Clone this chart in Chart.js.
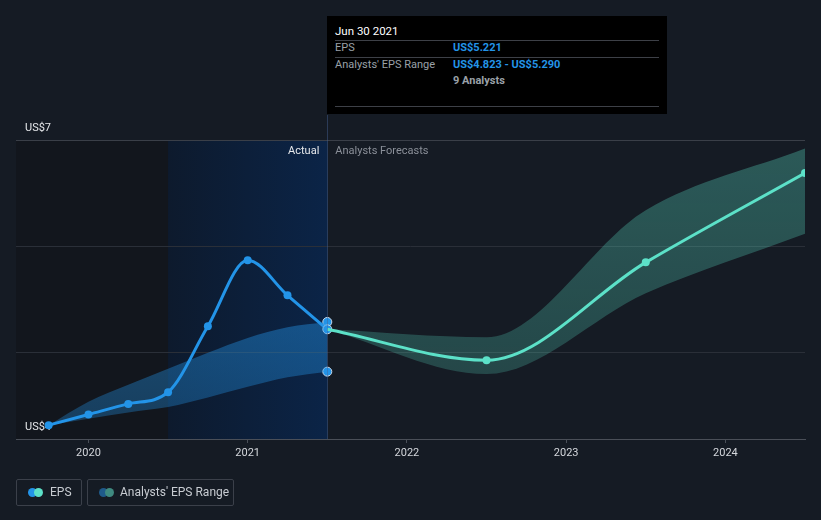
<!DOCTYPE html>
<html>
<head>
<meta charset="utf-8">
<script src="https://cdn.jsdelivr.net/npm/chart.js@4"></script>
<style>
  body { margin: 0; background: #151b24; font-family: Roboto, "Noto Sans", sans-serif; }
  #wrap { position: relative; width: 821px; height: 520px; overflow: hidden; }
  #tip { position: absolute; left: 327px; top: 16px; width: 340px; height: 98px; background: #000; color: #fff; font-size: 11px; }
  #tip .hd { position: absolute; left: 8px; top: 8px; font-size: 11.5px; }
  #tip .sep { position: absolute; left: 8px; right: 8px; height: 1px; background: #3d4047; }
  #tip .lb { position: absolute; left: 8px; color: #9aa0a8; }
  #tip .vl { position: absolute; left: 126px; color: #2394e8; font-weight: bold; }
  #tip .gr { color: #9aa0a8; }
  .leg { position: absolute; top: 479px; height: 27px; border: 1px solid #3b404a; border-radius: 2px; color: #c8ccd2; font-size: 12px; line-height: 25px; box-sizing: border-box; }
  .dots { position: absolute; left: 11px; top: 8px; width: 16px; height: 9px; }
  .dots span { position: absolute; top: 0; width: 9px; height: 9px; border-radius: 50%; }
</style>
</head>
<body>
<div id="wrap">
  <canvas id="eps" width="821" height="520"></canvas>
  <div id="tip">
    <div class="hd">Jun 30 2021</div>
    <div class="sep" style="top:24px"></div>
    <div class="lb" style="top:25px">EPS</div>
    <div class="vl" style="top:25px">US$5.221</div>
    <div class="sep" style="top:41px"></div>
    <div class="lb" style="top:42px">Analysts' EPS Range</div>
    <div class="vl" style="top:42px">US$4.823 - US$5.290</div>
    <div class="vl gr" style="top:58px">9 Analysts</div>
    <div class="sep" style="top:90px"></div>
  </div>
  <div class="leg" style="left:16px;width:66px;">
    <div class="dots"><span style="left:0;background:#2394e8"></span><span style="left:6px;background:#5ce1c8"></span></div>
    <span style="position:absolute;left:33px">EPS</span>
  </div>
  <div class="leg" style="left:87px;width:147px;">
    <div class="dots"><span style="left:0;background:#1f5a8a"></span><span style="left:6px;background:#3f8a80"></span></div>
    <span style="position:absolute;left:32px">Analysts' EPS Range</span>
  </div>
</div>
<script>
// quarterly actuals (decimal years)
const quarters = [2019.75, 2020, 2020.25, 2020.5, 2020.75, 2021, 2021.25, 2021.5];
const epsActual = [4.32, 4.42, 4.52, 4.63, 5.25, 5.87, 5.54, 5.221];
const rangeLow = [4.32, 4.38, 4.44, 4.49, 4.58, 4.68, 4.77, 4.823];
const rangeHigh = [4.32, 4.54, 4.70, 4.85, 5.00, 5.14, 5.24, 5.290];

// analyst forecasts
const forecastYears = [2021.5, 2022.5, 2023.5, 2024.5];
const epsForecast = [5.221, 4.93, 5.85, 6.69];
const forecastLow = [5.221, 4.80, 5.56, 6.12];
const forecastHigh = [5.221, 5.146, 6.34, 6.92];

const yearTicks = [2020, 2021, 2022, 2023, 2024];
const yTicks = [4.19, 5, 6, 7];
const yLabels = { 4.19: 'US$4', 7: 'US$7' };

const actualStart = 2020.5;
const actualEnd = 2021.5;

function pts(xs, ys) {
  return xs.map((x, i) => ({ x: x, y: ys[i] }));
}

const bgPlugin = {
  id: 'bg',
  beforeDraw(chart) {
    const ctx = chart.ctx;
    const a = chart.chartArea;
    const x = chart.scales.x;
    const x1 = x.getPixelForValue(actualStart);
    const x2 = x.getPixelForValue(actualEnd);
    ctx.save();
    ctx.fillStyle = '#12161d';
    ctx.fillRect(a.left, a.top, x1 - a.left, a.bottom - a.top);
    const g = ctx.createLinearGradient(x1, 0, x2, 0);
    g.addColorStop(0, '#0d1a2d');
    g.addColorStop(1, '#0b2447');
    ctx.fillStyle = g;
    ctx.fillRect(x1, a.top, x2 - x1, a.bottom - a.top);
    ctx.restore();
  },
  afterDraw(chart) {
    const ctx = chart.ctx;
    const a = chart.chartArea;
    const x2 = chart.scales.x.getPixelForValue(actualEnd);
    ctx.save();
    ctx.strokeStyle = 'rgba(70,100,150,0.45)';
    ctx.lineWidth = 1;
    ctx.beginPath();
    ctx.moveTo(Math.round(x2) + 0.5, 115);
    ctx.lineTo(Math.round(x2) + 0.5, a.bottom);
    ctx.stroke();
    ctx.font = '11px Roboto, sans-serif';
    ctx.textBaseline = 'middle';
    ctx.textAlign = 'right';
    ctx.fillStyle = '#e6e8eb';
    ctx.fillText('Actual', x2 - 8, a.top + 11);
    ctx.textAlign = 'left';
    ctx.fillStyle = '#8b9099';
    ctx.fillText('Analysts Forecasts', x2 + 8, a.top + 11);
    ctx.restore();
  }
};

const ctx = document.getElementById('eps').getContext('2d');

function vGrad(context, top, bottom) {
  const a = context.chart.chartArea;
  if (!a) return top;
  const g = context.chart.ctx.createLinearGradient(0, a.top, 0, a.bottom);
  g.addColorStop(0, top);
  g.addColorStop(1, bottom);
  return g;
}

new Chart(ctx, {
  type: 'line',
  data: {
    datasets: [
      {
        label: 'fcLow',
        data: pts(forecastYears, forecastLow),
        borderWidth: 0,
        pointRadius: 0,
        fill: false,
        cubicInterpolationMode: 'monotone'
      },
      {
        label: 'fcHigh',
        data: pts(forecastYears, forecastHigh),
        borderWidth: 0,
        pointRadius: 0,
        fill: '-1',
        backgroundColor: (c) => vGrad(c, 'rgba(92,225,200,0.32)', 'rgba(92,225,200,0.2)'),
        cubicInterpolationMode: 'monotone'
      },
      {
        label: 'acLow',
        data: pts(quarters, rangeLow),
        borderWidth: 0,
        pointRadius: 0,
        fill: false,
        cubicInterpolationMode: 'monotone'
      },
      {
        label: 'acHigh',
        data: pts(quarters, rangeHigh),
        borderWidth: 0,
        pointRadius: 0,
        fill: '-1',
        backgroundColor: (c) => vGrad(c, 'rgba(35,148,232,0.6)', 'rgba(35,148,232,0.3)'),
        cubicInterpolationMode: 'monotone'
      },
      {
        label: 'Forecast EPS',
        data: pts(forecastYears, epsForecast),
        borderColor: '#5ce1c8',
        backgroundColor: '#5ce1c8',
        borderWidth: 3,
        pointRadius: [0, 4, 4, 4],
        pointBorderWidth: 0,
        fill: false,
        cubicInterpolationMode: 'monotone'
      },
      {
        label: 'EPS',
        data: pts(quarters, epsActual),
        borderColor: '#2394e8',
        backgroundColor: '#2394e8',
        borderWidth: 3,
        pointRadius: [4, 4, 4, 4, 4, 4, 4, 4.5],
        pointBorderWidth: [0, 0, 0, 0, 0, 0, 0, 1],
        pointBorderColor: '#c9d8e8',
        fill: false,
        cubicInterpolationMode: 'monotone'
      },
      {
        label: 'rangeEnds',
        data: [{ x: actualEnd, y: rangeLow[rangeLow.length - 1] }, { x: actualEnd, y: rangeHigh[rangeHigh.length - 1] }],
        showLine: false,
        pointRadius: 4.5,
        pointBorderWidth: 1,
        pointBorderColor: '#c9d8e8',
        pointBackgroundColor: '#2394e8'
      }
    ]
  },
  options: {
    responsive: false,
    animation: false,
    layout: { padding: { left: 16, right: 16, top: 140, bottom: 0 } },
    plugins: {
      legend: { display: false },
      tooltip: { enabled: false }
    },
    scales: {
      x: {
        type: 'linear',
        min: 2019.545,
        max: 2024.5,
        afterBuildTicks: (s) => { s.ticks = yearTicks.map(v => ({ value: v })); },
        afterFit: (s) => { s.height = 81; },
        grid: { drawOnChartArea: false, drawTicks: true, tickLength: 4, color: '#4a4f58' },
        border: { color: '#4a4f58' },
        ticks: {
          color: '#d4d7dc',
          font: { family: 'Roboto', size: 11 },
          padding: 4,
          maxRotation: 0,
          callback: (v) => String(v)
        }
      },
      y: {
        min: 4.19,
        max: 7,
        afterBuildTicks: (s) => { s.ticks = yTicks.map(v => ({ value: v })); },
        afterFit: (s) => { s.width = 0; },
        border: { display: false },
        grid: {
          drawTicks: false,
          color: (c) => c.tick && c.tick.value === 7 ? '#3a3f48' : (c.tick && c.tick.value < 5 ? 'rgba(0,0,0,0)' : '#2a2f38')
        },
        ticks: {
          mirror: true,
          padding: 9,
          labelOffset: -12,
          color: '#e6e8eb',
          font: { family: 'Roboto', size: 11 },
          callback: (v) => yLabels[v] || ''
        }
      }
    }
  },
  plugins: [bgPlugin]
});
</script>
</body>
</html>
